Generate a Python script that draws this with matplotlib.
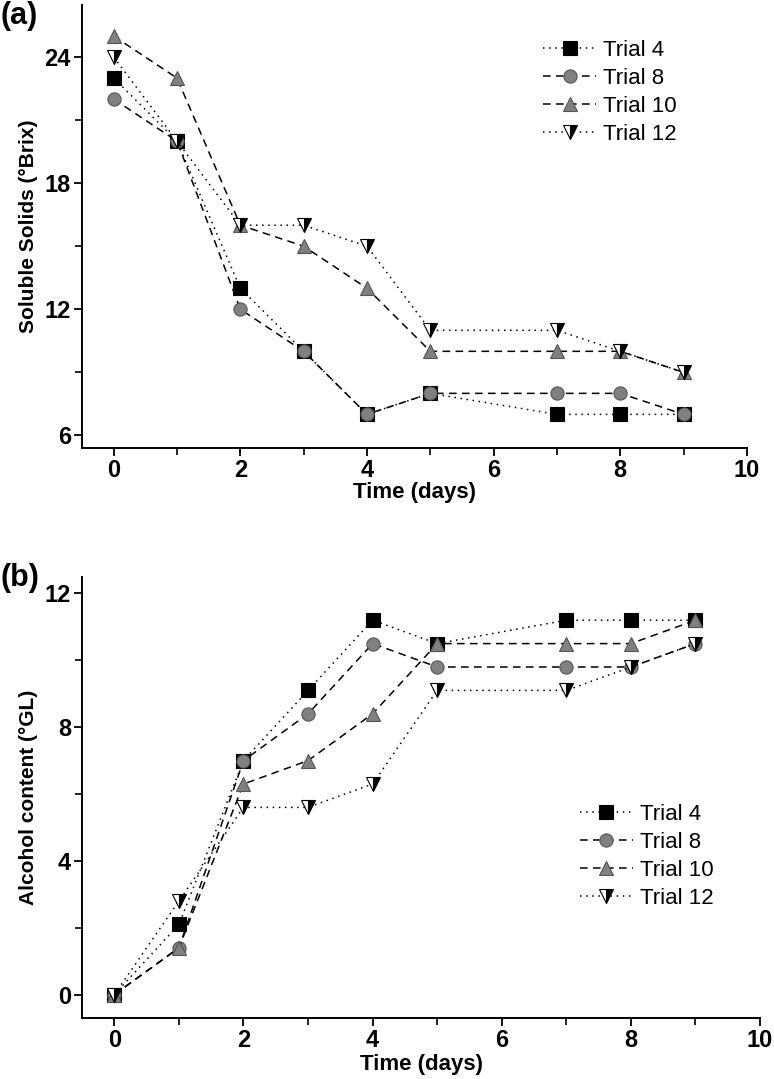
import matplotlib
matplotlib.use("Agg")
import matplotlib.pyplot as plt
from matplotlib import font_manager
from matplotlib.ticker import MultipleLocator

# dias de amostragem (nao ha dia 6)
days = [0, 1, 2, 3, 4, 5, 7, 8, 9]
trials = ["Trial 4", "Trial 8", "Trial 10", "Trial 12"]

# (a) solidos soluveis (°Brix)
brix_t4 = [23, 20, 13, 10, 7, 8, 7, 7, 7]
brix_t8 = [22, 20, 12, 10, 7, 8, 8, 8, 7]
brix_t10 = [25, 23, 16, 15, 13, 10, 10, 10, 9]
brix_t12 = [24, 20, 16, 16, 15, 11, 11, 10, 9]

# (b) teor alcoolico (°GL)
alc_t4 = [0, 2.1, 7.0, 9.1, 11.2, 10.5, 11.2, 11.2, 11.2]
alc_t8 = [0, 1.4, 7.0, 8.4, 10.5, 9.8, 9.8, 9.8, 10.5]
alc_t10 = [0, 1.4, 6.3, 7.0, 8.4, 10.5, 10.5, 10.5, 11.2]
alc_t12 = [0, 2.8, 5.6, 5.6, 6.3, 9.1, 9.1, 9.8, 10.5]

nomes = {f.name for f in font_manager.fontManager.ttflist}
FONTE = "Liberation Sans" if "Liberation Sans" in nomes else "DejaVu Sans"
ESTREITA = "Liberation Sans Narrow" if "Liberation Sans Narrow" in nomes else FONTE

plt.rcParams["font.family"] = FONTE

DOT = (0, (1, 3))
DASH = (0, (5, 3.5))

estilos = [
    dict(ls=DOT, marker="s", mfc="black", mec="black"),
    dict(ls=DASH, marker="o", mfc="#808080", mec="#555555"),
    dict(ls=DASH, marker="^", mfc="#808080", mec="#555555"),
    dict(ls=DOT, marker="v", mfc="black", mec="black",
         fillstyle="right", markerfacecoloralt="white"),
]


def desenhar(ax, series, ylabel, ylim, major_y, minor_y, leg_anchor, xpad):
    for nome, vals, st in zip(trials, series, estilos):
        ax.plot(days, vals, color="black", lw=1.1, ms=9.5, mew=0.8,
                label=nome, **st)
    ax.set_xlim(-0.5, 10)
    ax.set_ylim(*ylim)
    ax.xaxis.set_major_locator(MultipleLocator(2))
    ax.xaxis.set_minor_locator(MultipleLocator(1))
    ax.yaxis.set_major_locator(MultipleLocator(major_y))
    ax.yaxis.set_minor_locator(MultipleLocator(minor_y))
    for s in ["top", "right"]:
        ax.spines[s].set_visible(False)
    for s in ["left", "bottom"]:
        ax.spines[s].set_linewidth(1.4)
    ax.tick_params(which="major", length=6, width=1.3, direction="out", pad=2)
    ax.tick_params(which="minor", length=5, width=1.2, direction="out")
    for lab in ax.get_xticklabels() + ax.get_yticklabels():
        lab.set_fontfamily(ESTREITA)
        lab.set_fontweight("bold")
        lab.set_fontsize(17)
    ax.set_xlabel("Time (days)", fontfamily=ESTREITA, fontweight="bold",
                  fontsize=16, labelpad=xpad)
    ax.set_ylabel(ylabel, fontsize=15, fontweight="bold", labelpad=5)
    ax.legend(loc="upper left", bbox_to_anchor=leg_anchor,
              bbox_transform=ax.figure.transFigure, frameon=False,
              fontsize=16, numpoints=1, handlelength=2.4, handletextpad=0.3,
              labelspacing=0.32, borderpad=0, borderaxespad=0)


def main():
    fig = plt.figure(figsize=(7.74, 10.79), dpi=100)
    # eixo superior: 26.5 -> y=4.5 px, 5.4 -> y=448 px
    ax1 = fig.add_axes([0.106, 0.5848, 0.859, 0.4110])
    ax2 = fig.add_axes([0.106, 0.0565, 0.876, 0.409])

    desenhar(ax1, [brix_t4, brix_t8, brix_t10, brix_t12],
             "Soluble Solids (°Brix)", (5.4, 26.5), 6, 3, (0.7016, 0.963), 0)
    desenhar(ax2, [alc_t4, alc_t8, alc_t10, alc_t12],
             "Alcohol content (°GL)", (-0.7, 12.5), 4, 2, (0.749, 0.255), 1)

    fig.text(0.0, 0.999, "(a)", fontsize=22, fontweight="bold", va="top")
    fig.text(0.0, 0.478, "(b)", fontsize=22, fontweight="bold", va="top")

    fig.savefig("out.png", dpi=100)


if __name__ == "__main__":
    main()
